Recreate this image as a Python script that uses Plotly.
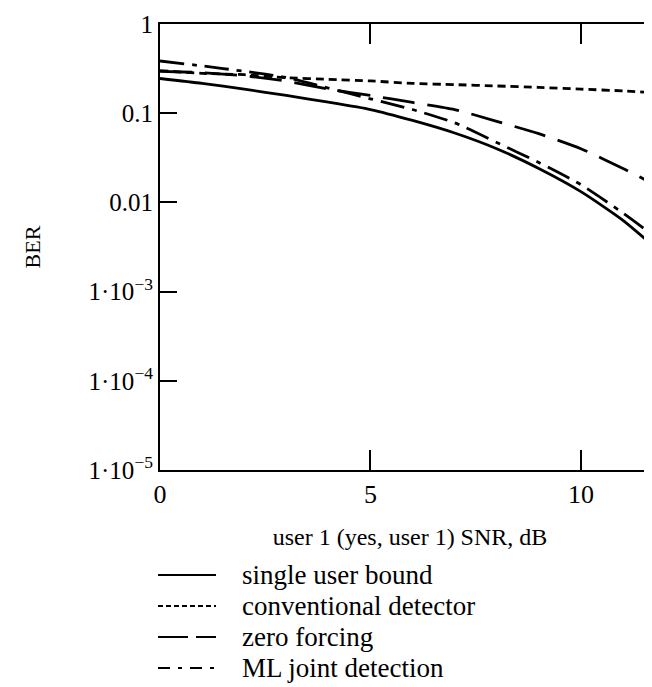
import plotly.graph_objects as go

# SNR, dB
snr = [0, 1, 2, 3, 4, 5, 6, 7, 8, 9, 10, 11, 12]
# BER per detector
single_user = [0.245, 0.216, 0.186, 0.158, 0.133, 0.110, 0.083, 0.060, 0.040, 0.024, 0.0132, 0.0063, 0.0025]
conventional = [0.30, 0.28, 0.27, 0.25, 0.24, 0.23, 0.216, 0.209, 0.202, 0.195, 0.186, 0.178, 0.166]
zero_forcing = [0.295, 0.285, 0.263, 0.229, 0.186, 0.158, 0.132, 0.110, 0.081, 0.059, 0.040, 0.024, 0.0138]
ml_joint = [0.385, 0.339, 0.295, 0.251, 0.191, 0.145, 0.110, 0.078, 0.047, 0.028, 0.0158, 0.0076, 0.0034]

series_names = ["single user bound", "conventional detector", "zero forcing", "ML joint detection"]
x_ticks = [0, 5, 10]
y_tickvals = [1, 0.1, 0.01, 1e-3, 1e-4, 1e-5]
y_ticktext = ["1", "0.1", "0.01", "1·10<sup>−3</sup>", "1·10<sup>−4</sup>", "1·10<sup>−5</sup>"]

FONT = "Liberation Serif, Times New Roman, serif"
dashes = ["solid", "8px,5px", "32px,13px", "24px,8px,5px,8px"]
legend_dashes = ["solid", "5px,3px", "30px,8px", "12px,8px,4px,8px"]
series = [single_user, conventional, zero_forcing, ml_joint]

W, H = 652, 687
L, R, T, B = 152, 0, 16, 225
PW, PH = W - L - R, H - T - B


def px_x(px):
    return (px - L) / PW


def px_y(py):
    return (H - B - py) / PH


fig = go.Figure()
for name, ys, d in zip(series_names, series, dashes):
    fig.add_trace(go.Scatter(
        x=snr, y=ys, mode="lines", name=name, showlegend=False,
        line=dict(color="black", width=2.8, dash=d, shape="spline", smoothing=0.6),
    ))

# invisible trace to carry the right-hand tick axis
fig.add_trace(go.Scatter(x=[None], y=[None], yaxis="y2", showlegend=False,
                         hoverinfo="skip", mode="lines"))

# hand-made legend below the axis title
legend_y = [567, 598, 629, 660]
for name, d, ly in zip(series_names, legend_dashes, legend_y):
    fig.add_shape(type="line", xref="paper", yref="paper",
                  x0=px_x(150), x1=px_x(208), y0=px_y(ly), y1=px_y(ly),
                  line=dict(color="black", width=2, dash=d))
    fig.add_annotation(xref="paper", yref="paper", x=px_x(232), y=px_y(ly),
                       xanchor="left", yanchor="middle", showarrow=False,
                       text=name, font=dict(family=FONT, size=27, color="black"))

fig.update_layout(
    width=W, height=H,
    margin=dict(l=L, r=R, t=T, b=B),
    paper_bgcolor="white", plot_bgcolor="white",
    font=dict(family=FONT, color="black", size=24),
    showlegend=False,
    xaxis=dict(
        range=[0, 11.88], tickvals=x_ticks, ticks="inside", ticklen=20, tickwidth=2,
        tickcolor="black", showline=True, linewidth=2, linecolor="black",
        mirror="ticks", showgrid=False, zeroline=False,
        tickfont=dict(family=FONT, size=26),
        title=dict(text="user 1 (yes, user 1) SNR, dB", font=dict(family=FONT, size=24), standoff=20),
    ),
    yaxis=dict(
        type="log", range=[-5, 0], tickvals=y_tickvals, ticktext=y_ticktext,
        ticks="inside", ticklen=17, tickwidth=2, tickcolor="black",
        showline=True, linewidth=2, linecolor="black", showgrid=False, zeroline=False,
        tickfont=dict(family=FONT, size=25),
        title=dict(text="BER", font=dict(family=FONT, size=22), standoff=42),
    ),
    yaxis2=dict(
        type="log", range=[-5, 0], tickvals=y_tickvals, overlaying="y", side="right",
        ticks="inside", ticklen=10, tickwidth=2, tickcolor="black",
        showline=False, showticklabels=False, showgrid=False, zeroline=False,
    ),
)

fig.write_html("out.html")
